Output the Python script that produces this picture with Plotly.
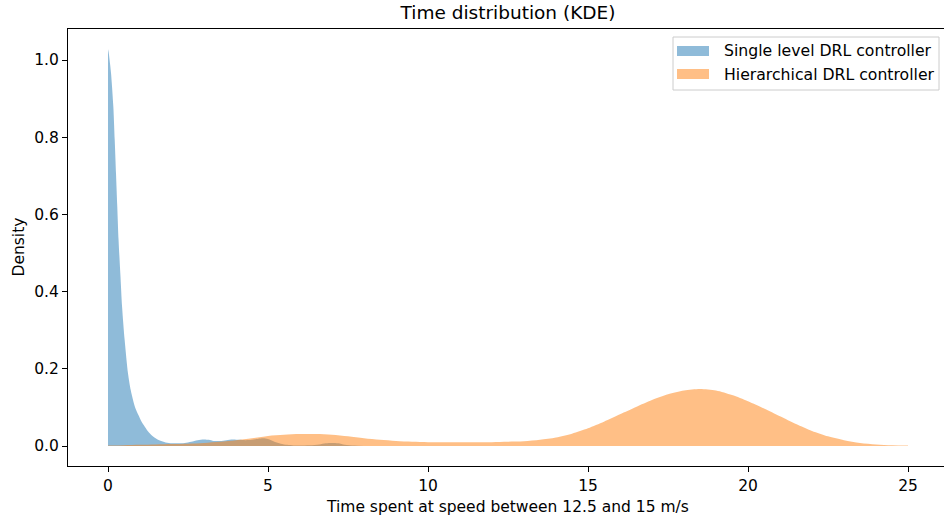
import plotly.graph_objects as go

# Kernel density estimates of time spent at speed between 12.5 and 15 m/s
single_x = [0.0, 0.02, 0.05, 0.094, 0.167, 0.21, 0.25, 0.29, 0.33, 0.385, 0.44, 0.52,
            0.625, 0.71, 0.78, 0.84, 0.95, 1.05, 1.15, 1.28, 1.45, 1.62, 1.8, 2.0,
            2.2, 2.4, 2.6, 2.8, 3.0, 3.15, 3.3, 3.5, 3.7, 3.9, 4.1, 4.3, 4.5, 4.7,
            4.85, 5.0, 5.2, 5.4, 5.6, 5.8, 6.0, 6.3, 6.6, 6.8, 7.0, 7.2, 7.4, 7.7, 8.0]
single_density = [1.028, 1.02, 1.0, 0.966, 0.879, 0.793, 0.706, 0.62, 0.534, 0.447, 0.361, 0.275,
                  0.188, 0.145, 0.12, 0.102, 0.08, 0.063, 0.05, 0.035, 0.022, 0.014, 0.009, 0.007,
                  0.007, 0.008, 0.011, 0.015, 0.017, 0.016, 0.013, 0.013, 0.015, 0.017, 0.016, 0.015, 0.016, 0.019,
                  0.020, 0.018, 0.011, 0.006, 0.003, 0.0015, 0.001, 0.002, 0.004, 0.007, 0.008, 0.007, 0.003, 0.001, 0.0]

hier_x = [0, 0.5, 1.0, 1.5, 2.0, 2.5, 3.0, 3.5, 4.0, 4.5, 5.0, 5.5, 6.0, 6.5, 7.0, 7.5,
          8.0, 8.5, 9.0, 9.5, 10, 10.5, 11, 11.5, 12, 12.5, 13, 13.5, 14, 14.5, 15, 15.5,
          16, 16.5, 17, 17.5, 18, 18.5, 19, 19.5, 20, 20.5, 21, 21.5, 22, 22.5, 23, 23.5,
          24, 24.5, 25]
hier_density = [0.001, 0.002, 0.003, 0.004, 0.005, 0.006, 0.008, 0.011, 0.015, 0.020, 0.026, 0.029,
                0.031, 0.031, 0.029, 0.025, 0.020, 0.016, 0.013, 0.011, 0.010, 0.0095, 0.0095, 0.0095,
                0.010, 0.011, 0.012, 0.016, 0.022, 0.032, 0.046, 0.063, 0.082, 0.101, 0.119, 0.134,
                0.144, 0.148, 0.144, 0.132, 0.116, 0.097, 0.077, 0.057, 0.039, 0.025, 0.015, 0.008,
                0.004, 0.002, 0.001]

series_names = ["Single level DRL controller", "Hierarchical DRL controller"]
series_colors = ["rgba(31,119,180,0.5)", "rgba(255,127,14,0.5)"]

x_ticks = [0, 5, 10, 15, 20, 25]
y_ticks = [0.0, 0.2, 0.4, 0.6, 0.8, 1.0]

FONT = "DejaVu Sans"
FS = 15.5
W, H = 944, 521
L, R, T, B = 68, 0, 29, 55

fig = go.Figure()
for xs, ys, name, col in [(single_x, single_density, series_names[0], series_colors[0]),
                          (hier_x, hier_density, series_names[1], series_colors[1])]:
    fig.add_trace(go.Scatter(x=xs, y=ys, mode="lines", fill="tozeroy",
                             fillcolor=col, line=dict(width=0, color=col, shape="spline", smoothing=0.8),
                             name=name, showlegend=False))

axis_common = dict(showgrid=False, zeroline=False, showline=True, linecolor="black",
                   linewidth=1, ticks="outside", ticklen=5, tickwidth=1, tickcolor="black",
                   tickfont=dict(family=FONT, size=FS, color="black"))

fig.update_layout(
    width=W, height=H,
    margin=dict(l=L, r=R, t=T, b=B, pad=0),
    plot_bgcolor="white", paper_bgcolor="white",
    font=dict(family=FONT, size=FS, color="black"),
    xaxis=dict(range=[-1.25, 26.125], tickvals=x_ticks, mirror=True, **axis_common),
    yaxis=dict(range=[-0.0518, 1.0803], tickvals=y_ticks, tickformat=".1f", **axis_common),
    title=dict(text="Time distribution (KDE)", font=dict(family=FONT, size=18.5, color="black"),
               xref="paper", x=0.5023, xanchor="center",
               yref="container", y=1 - 13 / H, yanchor="middle"),
)

# axis labels
plot_w, plot_h = W - L - R, H - T - B
fig.add_annotation(text="Time spent at speed between 12.5 and 15 m/s", xref="paper", yref="paper",
                   x=(507 - L) / plot_w, y=-(507 - (H - B)) / plot_h, xanchor="center", yanchor="middle",
                   showarrow=False, font=dict(family=FONT, size=FS, color="black"))
fig.add_annotation(text="Density", xref="paper", yref="paper", textangle=-90,
                   x=(18 - L) / plot_w, y=0.5, xanchor="center", yanchor="middle",
                   showarrow=False, font=dict(family=FONT, size=FS, color="black"))


def px_x(p):
    return (p - L) / plot_w


def px_y(p):
    return (H - B - p) / plot_h


# legend box
fig.add_shape(type="rect", xref="paper", yref="paper",
              x0=px_x(673), x1=px_x(939), y0=px_y(90), y1=px_y(37),
              line=dict(color="#cccccc", width=1), fillcolor="rgba(255,255,255,0.8)", layer="above")
for i, (name, col) in enumerate(zip(series_names, series_colors)):
    cy = 51 + i * 23
    fig.add_shape(type="rect", xref="paper", yref="paper",
                  x0=px_x(677), x1=px_x(709), y0=px_y(cy + 5), y1=px_y(cy - 5),
                  line=dict(width=0), fillcolor=col, layer="above")
    fig.add_annotation(text=name, xref="paper", yref="paper", x=px_x(722), y=px_y(cy),
                       xanchor="left", yanchor="middle", showarrow=False,
                       font=dict(family=FONT, size=15.7, color="black"))

fig.write_html("out.html")
